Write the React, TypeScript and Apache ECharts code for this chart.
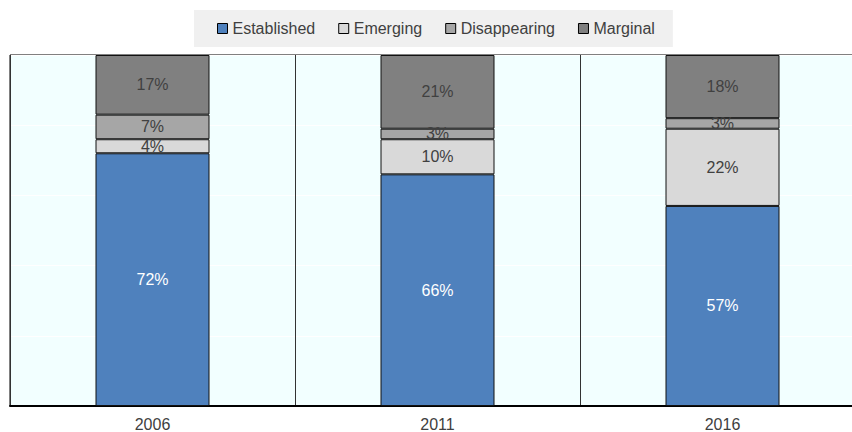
import React, { useEffect, useRef } from "react";
import * as echarts from "echarts";

const years = ["2006", "2011", "2016"];
const established = [72, 66, 57];
const emerging = [4, 10, 22];
const disappearing = [7, 3, 3];
const marginal = [17, 21, 18];

const FONT = "'Liberation Sans', Arial, sans-serif";

export default function App() {
  const ref = useRef<HTMLDivElement>(null);
  useEffect(() => {
    if (!ref.current) return;
    const chart = echarts.init(ref.current, undefined, { renderer: "svg" });
    const mk = (name: string, data: number[], color: string, labelColor: string) => ({
      name,
      type: "bar",
      stack: "s",
      data,
      barWidth: "40%",
      itemStyle: { color, borderColor: "#111", borderWidth: 1 },
      label: {
        show: true,
        position: "inside",
        formatter: "{c}%",
        color: labelColor,
        fontFamily: FONT,
        fontSize: 16,
      },
    });
    chart.setOption({
      animation: false,
      legend: {
        left: 194,
        top: 10,
        padding: [9, 18, 9, 23],
        backgroundColor: "#F0F0F0",
        icon: "rect",
        itemWidth: 10,
        itemHeight: 10,
        itemGap: 23,
        textStyle: { fontFamily: FONT, fontSize: 16, color: "#404040", lineHeight: 19 },
        data: ["Established", "Emerging", "Disappearing", "Marginal"].map((n) => ({
          name: n,
          itemStyle: { borderColor: "#000", borderWidth: 1 },
        })),
      },
      grid: {
        left: 10,
        top: 55,
        right: 0,
        bottom: 24,
        show: true,
        backgroundColor: "#F2FFFF",
        borderColor: "#000",
        borderWidth: 1,
      },
      xAxis: {
        type: "category",
        data: years,
        axisTick: { show: false },
        axisLine: { lineStyle: { color: "#000", width: 2 } },
        axisLabel: { color: "#404040", fontFamily: FONT, fontSize: 16, margin: 10 },
        splitLine: { show: true, interval: 0, lineStyle: { color: "#333", width: 1 } },
      },
      yAxis: {
        type: "value",
        min: 0,
        max: 100,
        interval: 20,
        axisLabel: { show: false },
        axisLine: { show: false },
        axisTick: { show: false },
        splitLine: { show: true, lineStyle: { color: "#FFFFFF", width: 1 } },
      },
      series: [
        mk("Established", established, "#4F81BD", "#FFFFFF"),
        mk("Emerging", emerging, "#D9D9D9", "#404040"),
        mk("Disappearing", disappearing, "#A6A6A6", "#404040"),
        mk("Marginal", marginal, "#808080", "#404040"),
      ],
    });
    return () => chart.dispose();
  }, []);
  return (
    <div style={{ width: 852, height: 432, position: "absolute", left: 0, top: 0, overflow: "hidden" }}>
      <div ref={ref} style={{ width: 865, height: 432 }} />
    </div>
  );
}
